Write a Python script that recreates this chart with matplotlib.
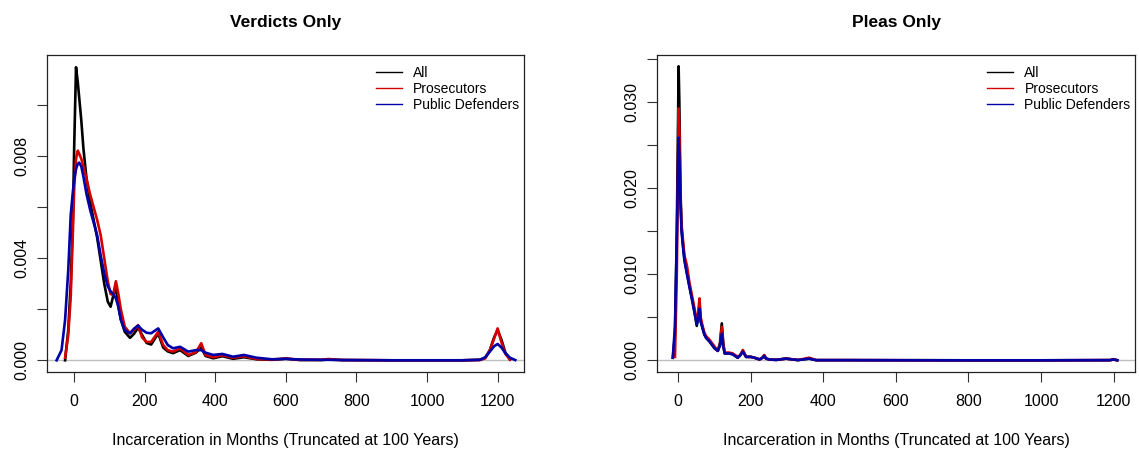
import numpy as np
import matplotlib.pyplot as plt
from matplotlib.lines import Line2D

plt.rcParams['font.family'] = ['Liberation Sans', 'DejaVu Sans']

nan = np.nan

# ---- Verdicts Only (left) : density curves ----
x_verd = [-50, -36, -26, -17, -10, -4, 0, 5, 10, 14, 20, 26, 35, 45, 55, 65, 75, 85, 95,
          103, 110, 118, 125, 132, 143, 158, 170, 181, 192, 205, 218, 238, 252, 265, 280,
          300, 323, 345, 360, 372, 394, 420, 450, 481, 517, 560, 600, 640, 700, 720, 760,
          900, 1100, 1150, 1165, 1178, 1190, 1200, 1211, 1222, 1235, 1250]
all_verd = [nan, nan, 0.0, .0012, .0030, .0055, .0085, .01149, .0109, .0103, .0094, .0083,
            .0071, .0062, .0055, .0048, .0039, .0030, .0023, .0021, .0025, .0029, .0021,
            .0016, .00112, .00088, .00105, .00128, .0010, .00068, .00062, .00105, .0005,
            .00035, .00028, .0004, .00017, .0003, .0005, .00017, .00008, .00016, .00006,
            .00012, .00004, .00002, .00006, .00001, .00001, .00003, .00001, 0, 0, .00002,
            .0001, .0004, .0009, .00118, .0008, .0003, .00003, nan]
pros_verd = [nan, nan, .0001, .0010, .0025, .0050, .0068, .0079, .00822, .0081, .0079, .0076,
             .0071, .0065, .0060, .0055, .0049, .0040, .0031, .0026, .00256, .0031, .0026,
             .0020, .00132, .00106, .0012, .00138, .0009, .00072, .00072, .00112, .0006,
             .0004, .00034, .00047, .00021, .00032, .00067, .00021, .00012, .0002, .0001,
             .00016, .00005, .00003, .00007, .00002, .00002, .00005, .00001, 0, 0, .00001,
             .00008, .0004, .00085, .00125, .0007, .00025, .00003, nan]
pd_verd = [0.0, .0004, .00158, .00354, .0057, .0066, .0071, .0075, .0077, .00775, .0076,
           .0072, .0065, .0059, .0054, .0049, .0041, .0034, .0029, .0027, .0026, .00243,
           .0021, .0016, .00119, .00106, .00125, .00136, .0012, .00108, .00106, .00125,
           .0009, .0006, .00047, .00053, .00034, .0004, .0004, .0003, .00021, .00025,
           .00014, .00021, .0001, .00004, .00006, .00003, .00002, .00002, .00001, 0, 0,
           .00002, .00012, .00034, .00055, .00064, .0005, .00028, .0001, .00001]

# ---- Pleas Only (right) ----
x_plea = [-15, -9, -4, 0, 1, 3, 6, 9, 13, 17, 24, 31, 38, 45, 51, 55, 58.5, 62, 67, 72, 77,
          86, 93, 100, 109, 115, 120, 124, 128, 140, 150, 164, 171, 178, 187, 200, 210, 224,
          232, 237, 242, 251, 270, 297, 330, 361, 380, 450, 600, 800, 1000, 1190, 1200, 1210]
all_plea = [.0003, .0030, .0150, .030, .0342, .030, .0200, .0155, .0135, .0118, .0102, .0086,
            .0072, .0056, .0040, .0050, .0066, .0045, .0038, .0030, .0026, .0022, .0018,
            .0014, .0011, .0020, .0043, .0020, .0008, .0008, .0007, .0003, .0006, .0011,
            .0004, .0004, .0003, .0001, .0003, .0006, .0002, .0001, .00005, .0002, .00003,
            .0002, .00002, .00002, .00001, 0, 0, .00002, .0001, .00001]
pros_plea = [nan, .0004, .0100, .025, .0293, .027, .0190, .0158, .0140, .0122, .0110, .0090,
             .0075, .0060, .0045, .0055, .0072, .0050, .0040, .0032, .0028, .0024, .0020,
             .0016, .0011, .0018, .0039, .0019, .0009, .0009, .0008, .0004, .0006, .0012,
             .0004, .0004, .0003, .0001, .0003, .0006, .0002, .0001, .00005, .0002, .00003,
             .0003, .00002, .00002, .00001, 0, 0, .00002, .0001, .00001]
pd_plea = [.0003, .0040, .0140, .0240, .0259, .0240, .0185, .0150, .0132, .0116, .0100, .0085,
           .0070, .0055, .0042, .0048, .0060, .0045, .0037, .0030, .0026, .0022, .0018,
           .0014, .0011, .0017, .0031, .0016, .0008, .0008, .0007, .0003, .0006, .0010,
           .0004, .0004, .0003, .0001, .0003, .0005, .0002, .0001, .00005, .0002, .00003,
           .0002, .00002, .00002, .00001, 0, 0, .00002, .0001, .00001]

series_names = ['All', 'Prosecutors', 'Public Defenders']
series_colors = ['black', '#D40000', '#0000A8']

x_ticks = [0, 200, 400, 600, 800, 1000, 1200]
verd_yticks = [0, .002, .004, .006, .008, .010]
verd_ylabels = ['0.000', '', '0.004', '', '0.008', '']
plea_yticks = [0, .005, .010, .015, .020, .025, .030, .035]
plea_ylabels = ['0.000', '', '0.010', '', '0.020', '', '0.030', '']

fig = plt.figure(figsize=(11.39, 4.55), dpi=100)
ax1 = fig.add_axes([0.0415, 0.1824, 0.4185, 0.6967])
ax2 = fig.add_axes([0.5771, 0.1824, 0.4194, 0.6967])

panels = [
    (ax1, 'Verdicts Only', x_verd, [all_verd, pros_verd, pd_verd],
     (-76.5, 1274.6), (-0.000459, 0.01197), verd_yticks, verd_ylabels),
    (ax2, 'Pleas Only', x_plea, [all_plea, pros_plea, pd_plea],
     (-57.7, 1259), (-0.00136, 0.03551), plea_yticks, plea_ylabels),
]

for ax, title, xs, ys, xl, yl, yt, ytl in panels:
    ax.axhline(0, color='#BEBEBE', lw=1, zorder=1)
    for y, c in zip(ys, series_colors):
        ax.plot(xs, y, color=c, lw=1.9, zorder=2)
    ax.set_xlim(xl)
    ax.set_ylim(yl)
    ax.set_xticks(x_ticks)
    ax.set_xticklabels([str(t) for t in x_ticks])
    ax.set_yticks(yt)
    ax.set_yticklabels(ytl, rotation=90, va='center')
    ax.tick_params(direction='out', length=7, width=0.8, labelsize=11.5,
                   color='#333333')
    ax.tick_params(axis='x', pad=9)
    ax.tick_params(axis='y', pad=6)
    for s in ax.spines.values():
        s.set_linewidth(0.9)
        s.set_color('#222222')
    ax.set_title(title, fontweight='bold', fontsize=12.5, pad=20)
    ax.set_xlabel('Incarceration in Months (Truncated at 100 Years)', fontsize=11.5,
                  labelpad=17)
    handles = [Line2D([], [], color=c, lw=1) for c in series_colors]
    ax.legend(handles, series_names, loc='upper right', frameon=False, fontsize=10,
              handlelength=1.9, handletextpad=0.8, labelspacing=0.12,
              borderaxespad=0.3, bbox_to_anchor=(1.011, 0.995))

fig.savefig('out.png', dpi=100)
